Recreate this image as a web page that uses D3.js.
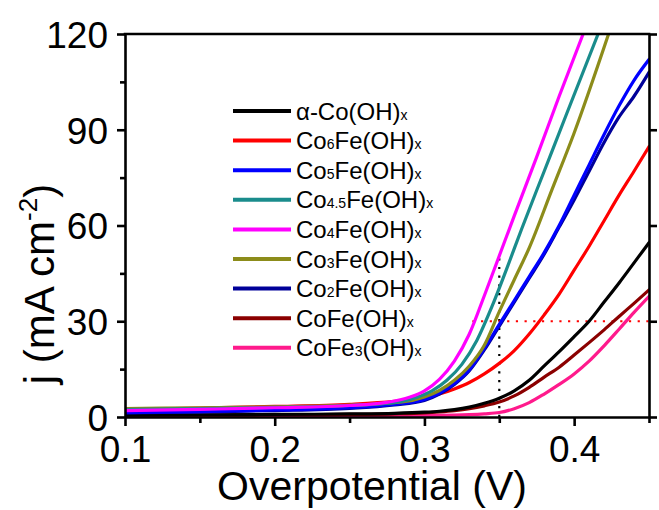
<!DOCTYPE html>
<html><head><meta charset="utf-8">
<script src="https://cdn.jsdelivr.net/npm/d3@7"></script>
<style>
body{margin:0;background:#fff}
svg{display:block}
text{font-family:"Liberation Sans",Arial,Helvetica,sans-serif;fill:#000}
</style>
</head><body>
<svg id="chart" width="659" height="510"></svg>
<script>
// ---------- data ----------
const xMajorTicks = [0.1, 0.2, 0.3, 0.4];
const xMinorTicks = [0.15, 0.25, 0.35, 0.45];
const yMajorTicks = [0, 30, 60, 90, 120];
const yMinorTicks = [15, 45, 75, 105];

const seriesColors = ["#000000", "#ff0000", "#0000ff", "#1a8c8c", "#ff00ff", "#8c8c1a", "#000099", "#8b0000", "#ff1a8c"];

// legend labels: [text, isSubscript]
const legendLabels = [
  [["α-Co(OH)", 0], ["x", 1]],
  [["Co", 0], ["6", 1], ["Fe(OH)", 0], ["x", 1]],
  [["Co", 0], ["5", 1], ["Fe(OH)", 0], ["x", 1]],
  [["Co", 0], ["4.5", 1], ["Fe(OH)", 0], ["x", 1]],
  [["Co", 0], ["4", 1], ["Fe(OH)", 0], ["x", 1]],
  [["Co", 0], ["3", 1], ["Fe(OH)", 0], ["x", 1]],
  [["Co", 0], ["2", 1], ["Fe(OH)", 0], ["x", 1]],
  [["CoFe(OH)", 0], ["x", 1]],
  [["CoFe", 0], ["3", 1], ["(OH)", 0], ["x", 1]]
];

// common potential grid (V) for the slower curves
const vGrid = [0.10, 0.15, 0.20, 0.25, 0.28, 0.30, 0.31, 0.32, 0.33, 0.34, 0.35, 0.36, 0.37, 0.38, 0.39, 0.40, 0.41, 0.42, 0.43, 0.44, 0.45];

// alpha-Co(OH)x
const jCo   = [0.6, 0.7, 0.8, 0.95, 1.15, 1.5, 1.8, 2.3, 3.1, 4.3, 5.9, 8.2, 11.5, 16, 20.5, 25.2, 30, 36, 42, 48.3, 54.6];
// Co6Fe(OH)x
const jCo6  = [2.3, 2.8, 3.3, 4.0, 4.9, 6.0, 7.2, 8.8, 10.8, 13.5, 16.8, 20.8, 26, 32, 38.5, 46, 53.5, 61.5, 69.5, 77, 84.7];
// Co5Fe(OH)x
const jCo5  = [1.4, 1.7, 2.2, 2.9, 4.0, 5.5, 7.5, 10.5, 14.8, 21.5, 29, 36.5, 44, 51.5, 60, 69.5, 79, 88.5, 97.5, 105.5, 112];
// Co2Fe(OH)x
const jCo2  = [1.3, 1.6, 2.0, 2.7, 3.8, 5.2, 7.2, 10.2, 14.5, 21, 28.5, 36, 43.5, 51, 59.5, 68, 77, 86, 94, 100.5, 108];
// CoFe(OH)x
const jCoFe = [0.5, 0.6, 0.7, 0.8, 1.0, 1.3, 1.6, 2.0, 2.6, 3.5, 4.7, 6.6, 9.3, 12.5, 15.6, 19.4, 23.3, 27.3, 31.5, 35.6, 39.8];
// CoFe3(OH)x
const jCoFe3 = [0.2, 0.25, 0.3, 0.35, 0.4, 0.45, 0.52, 0.6, 0.75, 1.0, 1.4, 2.6, 4.5, 7.2, 10.2, 13.5, 17.5, 22.3, 27.5, 32.8, 37.8];

// fast curves (stop where they leave the 120 mA cm-2 frame)
const vCo45 = [0.10, 0.15, 0.20, 0.25, 0.28, 0.295, 0.305, 0.315, 0.325, 0.335, 0.345, 0.355, 0.365, 0.38, 0.395, 0.416];
const jCo45 = [2.3, 2.6, 3.0, 3.6, 4.6, 6.2, 8.2, 11.5, 16.5, 24, 34.5, 46.5, 59, 77, 95, 120];
const vCo4  = [0.10, 0.15, 0.20, 0.25, 0.275, 0.29, 0.30, 0.31, 0.32, 0.33, 0.34, 0.35, 0.36, 0.375, 0.39, 0.406];
const jCo4  = [2.0, 2.4, 2.9, 3.6, 4.6, 6.2, 8.2, 11.8, 17.5, 26, 38, 50.5, 63, 81.5, 100.5, 120];
const vCo3  = [0.10, 0.15, 0.20, 0.25, 0.285, 0.30, 0.31, 0.32, 0.33, 0.34, 0.35, 0.36, 0.37, 0.385, 0.40, 0.423];
const jCo3  = [2.6, 2.9, 3.2, 3.7, 4.7, 6.3, 8.3, 11.5, 16, 22.5, 33, 43, 53, 71, 89, 120];

const seriesV = [vGrid, vGrid, vGrid, vCo45, vCo4, vCo3, vGrid, vGrid, vGrid];
const seriesJ = [jCo, jCo6, jCo5, jCo45, jCo4, jCo3, jCo2, jCoFe, jCoFe3];
// draw order (back to front)
const drawOrder = [8, 7, 0, 1, 6, 2, 5, 3, 4];

// reference guides
const refV = 0.35, refVTop = 51;
const refJ = 30, refJStart = 0.332;

// ---------- drawing ----------
const svg = d3.select("#chart");
const L = 125, R = 649, T = 34, B = 417;
const x = d3.scaleLinear().domain([0.1, 0.45]).range([L, R]);
const y = d3.scaleLinear().domain([0, 120]).range([B, T]);

svg.append("rect").attr("width", 659).attr("height", 510).attr("fill", "#fff");

svg.append("clipPath").attr("id", "clip")
  .append("rect").attr("x", L).attr("y", T).attr("width", R - L).attr("height", B - T);

const plot = svg.append("g").attr("clip-path", "url(#clip)");

// guides
plot.append("line")
  .attr("x1", x(refV)).attr("x2", x(refV)).attr("y1", y(0)).attr("y2", y(refVTop))
  .attr("stroke", "#000").attr("stroke-width", 2.2).attr("stroke-dasharray", "2.2,6.5");
plot.append("line")
  .attr("x1", x(refJStart)).attr("x2", x(0.45)).attr("y1", y(refJ)).attr("y2", y(refJ))
  .attr("stroke", "#ff0000").attr("stroke-width", 2.2).attr("stroke-dasharray", "2.2,6.5");

const line = d3.line().x(d => x(d[0])).y(d => y(d[1])).curve(d3.curveMonotoneX);
drawOrder.forEach(i => {
  const pts = seriesV[i].map((v, k) => [v, seriesJ[i][k]]);
  plot.append("path").datum(pts)
    .attr("d", line).attr("fill", "none")
    .attr("stroke", seriesColors[i]).attr("stroke-width", 3.2)
    .attr("stroke-linejoin", "round").attr("stroke-linecap", "round");
});

// axes
const axW = 2.6;
function styleAxis(g, fs) {
  g.select(".domain").attr("stroke-width", axW);
  g.selectAll(".tick line").attr("stroke-width", axW);
  g.selectAll(".tick text").attr("font-size", fs).attr("font-family", '"Liberation Sans",Arial,sans-serif').attr("fill", "#000");
}
const gx = svg.append("g").attr("transform", `translate(0,${B})`)
  .call(d3.axisBottom(x).tickValues(xMajorTicks).tickFormat(d3.format(".1f")).tickSize(9).tickSizeOuter(0).tickPadding(10));
styleAxis(gx, 37);
const gxm = svg.append("g").attr("transform", `translate(0,${B})`)
  .call(d3.axisBottom(x).tickValues(xMinorTicks).tickFormat("").tickSize(6).tickSizeOuter(0));
styleAxis(gxm, 0);
gxm.select(".domain").remove();

const gy = svg.append("g").attr("transform", `translate(${L},0)`)
  .call(d3.axisLeft(y).tickValues(yMajorTicks).tickFormat(d3.format("d")).tickSize(8).tickSizeOuter(0).tickPadding(9));
styleAxis(gy, 37);
gy.selectAll(".tick text").attr("dy", "0.36em");
const gym = svg.append("g").attr("transform", `translate(${L},0)`)
  .call(d3.axisLeft(y).tickValues(yMinorTicks).tickFormat("").tickSize(5).tickSizeOuter(0));
styleAxis(gym, 0);
gym.select(".domain").remove();

const gr = svg.append("g").attr("transform", `translate(${R},0)`)
  .call(d3.axisRight(y).tickValues(yMajorTicks).tickFormat("").tickSize(8).tickSizeOuter(0));
styleAxis(gr, 0);

svg.append("line").attr("x1", L).attr("x2", R).attr("y1", T).attr("y2", T)
  .attr("stroke", "#000").attr("stroke-width", axW).attr("stroke-linecap", "square");

// axis titles
svg.append("text").attr("x", 372).attr("y", 500).attr("text-anchor", "middle")
  .attr("font-size", 41).text("Overpotential (V)");

const yt = svg.append("text").attr("transform", "translate(54,284) rotate(-90)")
  .attr("text-anchor", "middle").attr("font-size", 42);
yt.append("tspan").text("j (mA cm");
yt.append("tspan").attr("font-size", 26).attr("dy", -17).text("-2");
yt.append("tspan").attr("dy", 17).text(")");

// legend
const legX1 = 233, legX2 = 291, legTx = 296, legY0 = 111, legDy = 29.6;
legendLabels.forEach((parts, i) => {
  const cy = legY0 + i * legDy;
  svg.append("line").attr("x1", legX1).attr("x2", legX2).attr("y1", cy).attr("y2", cy)
    .attr("stroke", seriesColors[i]).attr("stroke-width", 4);
  const t = svg.append("text").attr("x", legTx).attr("y", cy + 8.5).attr("font-size", 24);
  parts.forEach(p => {
    t.append("tspan").attr("font-size", p[1] ? 14 : 24).text(p[0]);
  });
});
</script>
</body></html>
